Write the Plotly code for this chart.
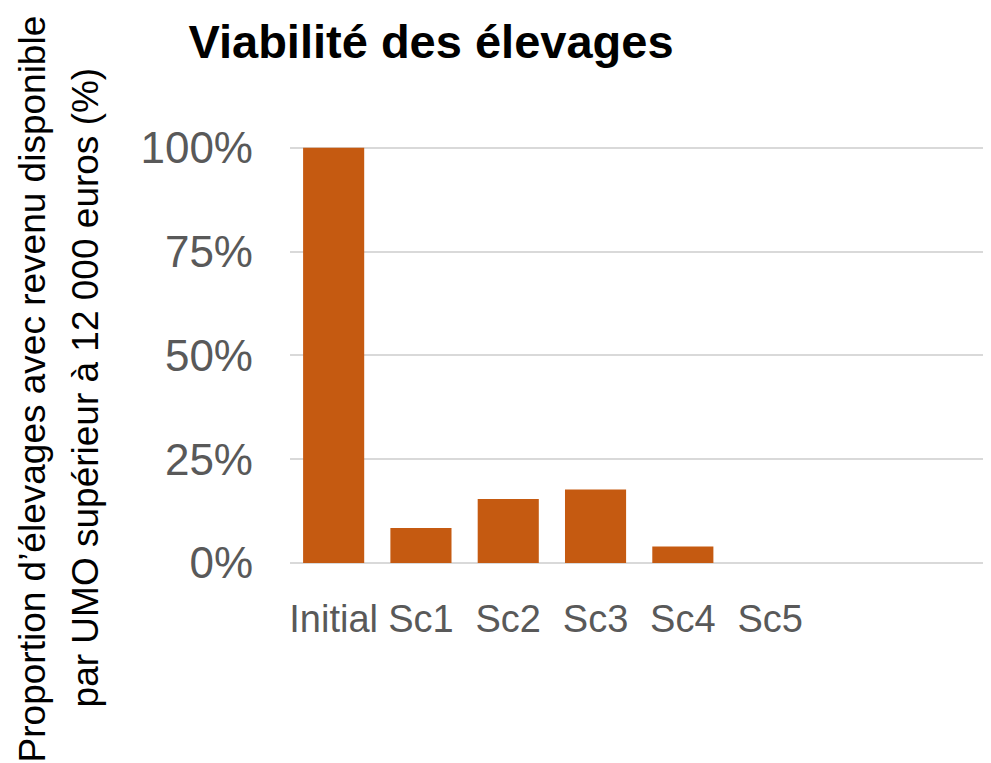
import plotly.graph_objects as go

categories = ["Initial", "Sc1", "Sc2", "Sc3", "Sc4", "Sc5"]
values = [1.00, 0.084, 0.154, 0.177, 0.040, 0.0]
y_ticks = [0, 0.25, 0.5, 0.75, 1.0]
y_tick_labels = ["0%", "25%", "50%", "75%", "100%"]

title_text = "<b>Viabilité des élevages</b>"
y_title_line1 = "Proportion d’élevages avec revenu disponible"
y_title_line2 = "par UMO supérieur à 12 000 euros (%)"

# page has an 8px body margin; figure coordinates are page coordinates minus 8
W, H = 983, 755
L, R = 281.5, 0
T, B = 119.2, 199.7
pw = W - L - R
ph = H - T - B
bottom_px = H - B

def px_x(x_page):
    return (x_page - 8 - L) / pw

def px_y(y_page):
    return (bottom_px - (y_page - 8)) / ph

fig = go.Figure()
fig.add_trace(go.Bar(
    x=categories, y=values,
    marker=dict(color="#C55A11", line=dict(width=0)),
    hoverinfo="skip",
))

fig.update_layout(
    width=W, height=H,
    margin=dict(l=L, r=R, t=T, b=B, pad=0),
    paper_bgcolor="white", plot_bgcolor="white",
    bargap=0.3,
    showlegend=False,
    font=dict(family="Arial, Liberation Sans, sans-serif"),
    title=dict(
        text=title_text,
        x=423 / W, xanchor="center", xref="container",
        y=1 - 34 / H, yanchor="middle", yref="container",
        font=dict(size=47, color="black", family="Arial, Liberation Sans, sans-serif"),
    ),
    xaxis=dict(
        type="category",
        range=[-0.5, 7.53],
        showgrid=False, zeroline=False, showline=False,
        ticks="",
        ticklabelstandoff=30,
        tickfont=dict(size=38, color="#595959"),
        fixedrange=True,
    ),
    yaxis=dict(
        range=[0, 1.05],
        tickvals=y_ticks, ticktext=y_tick_labels,
        showgrid=True, gridcolor="#d9d9d9", gridwidth=1.5,
        zeroline=True, zerolinecolor="#d9d9d9", zerolinewidth=2,
        showline=False, ticks="",
        ticklabelstandoff=36,
        tickfont=dict(size=44, color="#595959"),
        fixedrange=True,
    ),
    annotations=[
        dict(
            text=y_title_line1,
            xref="paper", yref="paper",
            x=px_x(32), y=px_y(389),
            xanchor="center", yanchor="middle",
            textangle=-90, showarrow=False,
            font=dict(size=37, color="black"),
        ),
        dict(
            text=y_title_line2,
            xref="paper", yref="paper",
            x=px_x(85), y=px_y(388),
            xanchor="center", yanchor="middle",
            textangle=-90, showarrow=False,
            font=dict(size=37, color="black"),
        ),
    ],
)

fig.write_html("out.html", config={"displayModeBar": False})
